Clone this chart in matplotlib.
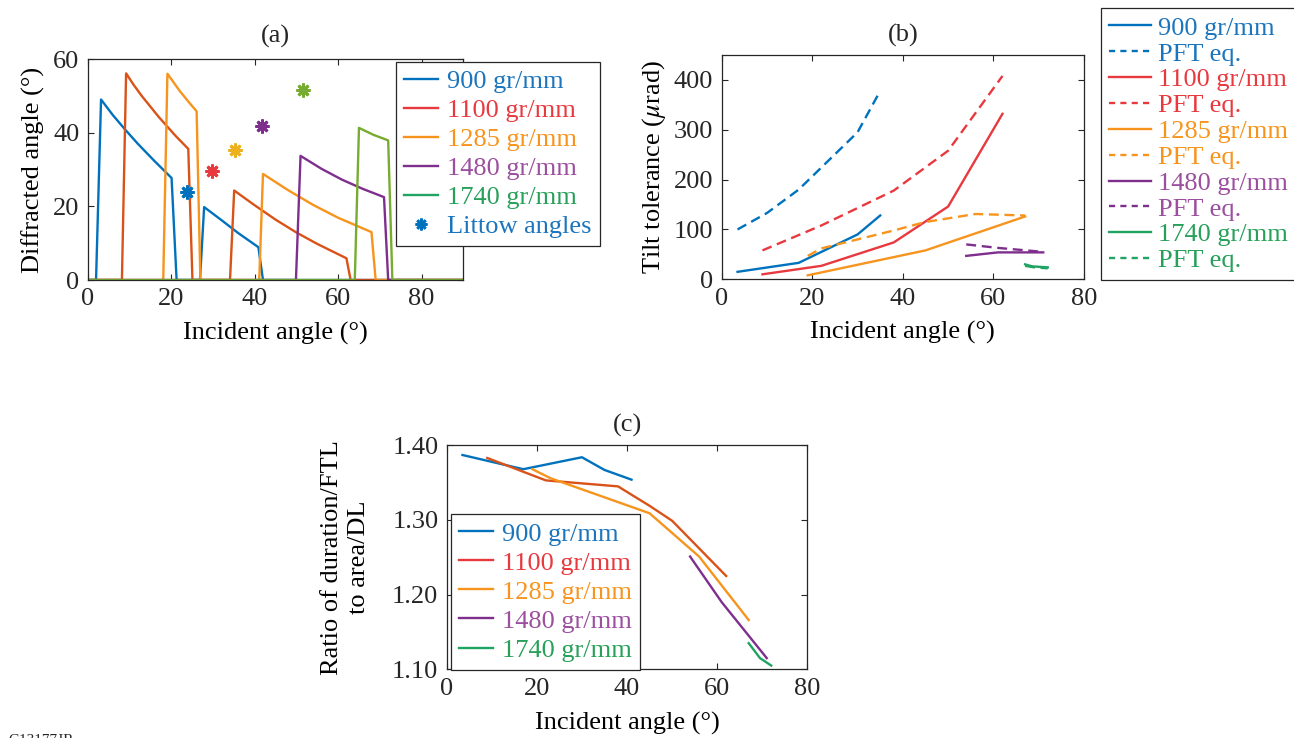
import numpy as np
import matplotlib
matplotlib.use('Agg')
import matplotlib.pyplot as plt
from matplotlib.lines import Line2D
from matplotlib.ticker import FormatStrFormatter

FS = 19
plt.rcParams['font.family'] = ['Liberation Serif', 'DejaVu Serif']
plt.rcParams['mathtext.fontset'] = 'stix'
plt.rcParams['font.size'] = FS
plt.rcParams['axes.edgecolor'] = '#262626'
plt.rcParams['text.color'] = '#262626'
plt.rcParams['xtick.color'] = '#262626'
plt.rcParams['ytick.color'] = '#262626'

# ---- (a) diffracted angle vs incident angle ----
a_900_x = [0, 2.0, 3.2, 6, 9, 12, 16, 20.1, 21.3, 26.9, 27.9, 32, 36, 40.9, 42.0, 90]
a_900_y = [0, 0, 49.0, 44.8, 40.8, 37.0, 32.3, 27.7, 0, 0, 19.8, 16.3, 12.8, 8.9, 0, 0]
a_1100_x = [0, 8.2, 9.2, 11, 13, 17, 21, 24.1, 25.1, 34.1, 35.1, 40, 45, 50, 55, 62.0, 63.0, 90]
a_1100_y = [0, 0, 56.1, 53.0, 49.9, 44.3, 39.2, 35.6, 0, 0, 24.3, 20.3, 16.4, 12.9, 9.8, 5.9, 0, 0]
a_1285_x = [0, 18.1, 19.1, 22, 24, 26.1, 27.0, 41.1, 42.0, 48, 54, 60, 68.0, 69.0, 90]
a_1285_y = [0, 0, 56.0, 51.4, 48.6, 45.8, 0, 0, 28.8, 24.4, 20.4, 16.9, 13.0, 0, 0]
a_1480_x = [0, 49.9, 51.0, 56, 61, 66, 71.0, 72.0, 90]
a_1480_y = [0, 0, 33.7, 30.2, 27.2, 24.7, 22.5, 0, 0]
a_1740_x = [0, 64.0, 65.0, 68.5, 72.0, 73.0, 90]
a_1740_y = [0, 0, 41.3, 39.4, 37.9, 0, 0]
littrow_x = [23.9, 29.7, 35.3, 41.8, 51.5]
littrow_y = [23.9, 29.7, 35.3, 41.8, 51.5]

# ---- (b) tilt tolerance ----
b_900_x = [3.5, 17, 30, 35]
b_900_y = [15, 33, 90, 128]
b_900_pft_x = [3.5, 10, 17, 30, 35]
b_900_pft_y = [100, 133, 180, 295, 378]
b_1100_x = [9, 22, 38, 50, 62]
b_1100_y = [10, 27, 74, 146, 332]
b_1100_pft_x = [9, 22, 38, 50, 62]
b_1100_pft_y = [58, 108, 178, 258, 408]
b_1285_x = [19, 45, 67]
b_1285_y = [8, 58, 126]
b_1285_pft_x = [19, 22, 30, 38, 45, 56, 67]
b_1285_pft_y = [47, 62, 80, 98, 115, 131, 128]
b_1480_x = [54, 61, 71]
b_1480_y = [47, 54, 54]
b_1480_pft_x = [54, 61, 71]
b_1480_pft_y = [70, 63, 55]
b_1740_x = [67, 68.5, 72]
b_1740_y = [30, 26, 24]
b_1740_pft_x = [67, 69, 72]
b_1740_pft_y = [27, 24, 22]

# ---- (c) ratio FTL/DL ----
c_900_x = [3.5, 17, 30, 35, 41]
c_900_y = [1.387, 1.368, 1.384, 1.367, 1.354]
c_1100_x = [9, 22, 38, 45, 50, 62]
c_1100_y = [1.383, 1.353, 1.345, 1.319, 1.299, 1.225]
c_1285_x = [19, 23, 45, 56, 67]
c_1285_y = [1.368, 1.356, 1.309, 1.251, 1.166]
c_1480_x = [54, 61, 71]
c_1480_y = [1.251, 1.190, 1.115]
c_1740_x = [67, 69.5, 72]
c_1740_y = [1.135, 1.115, 1.105]

labels = ['900 gr/mm', '1100 gr/mm', '1285 gr/mm', '1480 gr/mm', '1740 gr/mm']

# 颜色
BLUE = '#0072BD'
RED = '#E8393F'
REDORANGE = '#D95319'
ORANGE = '#F7941D'
PURPLE = '#7E2F8E'
GREEN = '#1FA463'
LIME = '#77AC30'
YELLOW = '#EDB120'
leg_line = [BLUE, RED, ORANGE, PURPLE, GREEN]
leg_text = ['#1C75BC', '#E8393F', '#F7941D', '#9B4F9E', '#27A05A']

LW = 1.7
DASH = (0, (4.2, 2.4))
AST = (8, 2, 0)

W, H = 1294, 738
fig = plt.figure(figsize=(W / 100, H / 100), dpi=100)


def px_axes(l, t, r, b):
    return fig.add_axes([l / W, 1 - b / H, (r - l) / W, (b - t) / H])


def style(ax):
    ax.tick_params(direction='in', length=4, width=0.8, top=True, right=True, pad=6)
    for s in ax.spines.values():
        s.set_linewidth(0.9)


def texts_colors(n):
    if n == 10:
        return [c for c in leg_text for _ in range(2)]
    if n == 6:
        return leg_text + ['#1C75BC']
    return leg_text


def make_legend(ax, handles, texts, x, y, spacing, hlen=1.3, tpad=0.35):
    leg = ax.legend(handles, texts, loc='upper left', bbox_to_anchor=(x / W, 1 - y / H),
                    bbox_transform=fig.transFigure, borderaxespad=0, fancybox=False,
                    framealpha=1, edgecolor='#262626', handlelength=hlen,
                    handletextpad=tpad, labelspacing=spacing, borderpad=0.3,
                    fontsize=FS)
    leg.get_frame().set_linewidth(0.9)
    for t, c in zip(leg.get_texts(), texts_colors(len(texts))):
        t.set_color(c)
    return leg


# (a)
ax = px_axes(87.7, 59, 463.3, 280)
style(ax)
ax.plot(a_900_x, a_900_y, color=BLUE, lw=LW)
ax.plot(a_1100_x, a_1100_y, color=REDORANGE, lw=LW)
ax.plot(a_1285_x, a_1285_y, color=ORANGE, lw=LW)
ax.plot(a_1480_x, a_1480_y, color=PURPLE, lw=LW)
ax.plot(a_1740_x, a_1740_y, color=LIME, lw=LW)
for xx, yy, c in zip(littrow_x, littrow_y, [BLUE, RED, YELLOW, PURPLE, LIME]):
    ax.plot(xx, yy, marker=AST, color=c, ms=10, mew=2.0, ls='none')
ax.set_xlim(0, 90)
ax.set_ylim(0, 60)
ax.set_xticks([0, 20, 40, 60, 80])
ax.set_yticks([0, 20, 40, 60])
ax.set_xlabel('Incident angle (°)', labelpad=8)
ax.set_ylabel('Diffracted angle (°)', labelpad=6)
ax.set_title('(a)', fontsize=FS, pad=12)
hs = [Line2D([], [], color=c, lw=LW) for c in leg_line]
hs.append(Line2D([], [], marker=AST, color=BLUE, ms=8.5, mew=1.9, ls='none'))
make_legend(ax, hs, labels + ['Littow angles'], 396, 62, 0.21)

# (b)
ax = px_axes(721.7, 55, 1084, 279.3)
style(ax)
bcols = [BLUE, RED, ORANGE, PURPLE, GREEN]
solid = [(b_900_x, b_900_y), (b_1100_x, b_1100_y), (b_1285_x, b_1285_y),
         (b_1480_x, b_1480_y), (b_1740_x, b_1740_y)]
dashed = [(b_900_pft_x, b_900_pft_y), (b_1100_pft_x, b_1100_pft_y),
          (b_1285_pft_x, b_1285_pft_y), (b_1480_pft_x, b_1480_pft_y),
          (b_1740_pft_x, b_1740_pft_y)]
for (sx, sy), (dx, dy), c in zip(solid, dashed, bcols):
    ax.plot(sx, sy, color=c, lw=LW)
    ax.plot(dx, dy, color=c, lw=LW, ls=DASH)
ax.set_xlim(0, 80)
ax.set_ylim(0, 450)
ax.set_xticks([0, 20, 40, 60, 80])
ax.set_yticks([0, 100, 200, 300, 400])
ax.set_xlabel('Incident angle (°)', labelpad=8)
ax.set_ylabel(r'Tilt tolerance ($\mu$rad)', labelpad=4)
ax.set_title('(b)', fontsize=FS, pad=10)
hs, ts = [], []
for c, lab in zip(leg_line, labels):
    hs += [Line2D([], [], color=c, lw=LW),
           Line2D([], [], color=c, lw=LW, ls=(0, (2.6, 2.2)))]
    ts += [lab, 'PFT eq.']
make_legend(ax, hs, ts, 1100.7, 8.3, 0.09, hlen=1.6, tpad=0.27)

# (c)
ax = px_axes(446.7, 445.3, 807.3, 669.3)
style(ax)
ax.plot(c_900_x, c_900_y, color=BLUE, lw=LW)
ax.plot(c_1100_x, c_1100_y, color=REDORANGE, lw=LW)
ax.plot(c_1285_x, c_1285_y, color=ORANGE, lw=LW)
ax.plot(c_1480_x, c_1480_y, color=PURPLE, lw=LW)
ax.plot(c_1740_x, c_1740_y, color=GREEN, lw=LW)
ax.set_xlim(0, 80)
ax.set_ylim(1.10, 1.40)
ax.set_xticks([0, 20, 40, 60, 80])
ax.set_yticks([1.10, 1.20, 1.30, 1.40])
ax.yaxis.set_major_formatter(FormatStrFormatter('%.2f'))
ax.set_xlabel('Incident angle (°)', labelpad=9)
ax.set_ylabel('Ratio of duration/FTL\nto area/DL', labelpad=16, linespacing=1.3)
ax.set_title('(c)', fontsize=FS, pad=10)
hs = [Line2D([], [], color=c, lw=LW) for c in leg_line]
make_legend(ax, hs, labels, 450.7, 514.3, 0.21)

fig.text(8 / W, 4 / H, 'G13177JR', fontsize=11, va='top', ha='left', color='#262626')

fig.savefig('out.png', dpi=100)
